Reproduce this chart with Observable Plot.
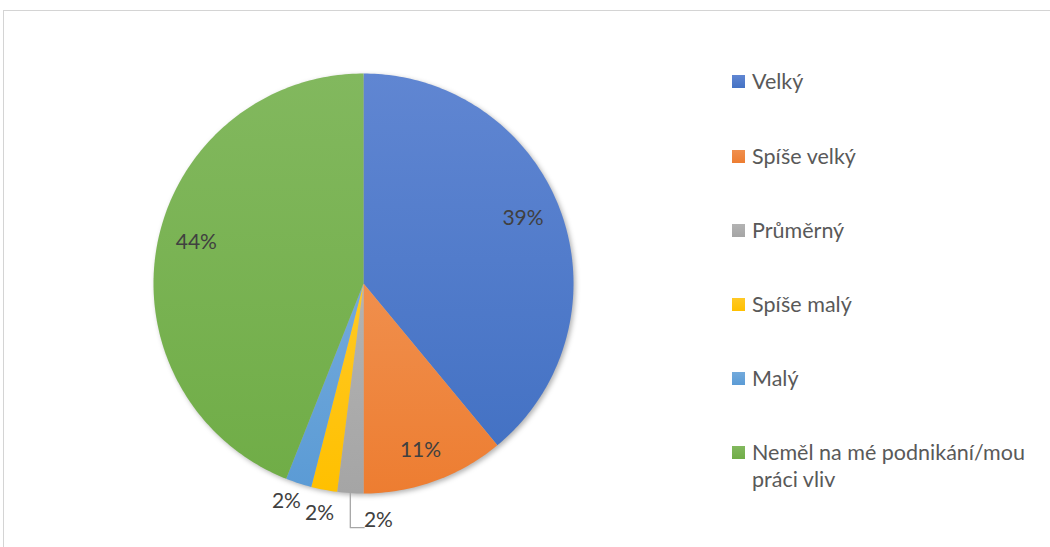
<!DOCTYPE html>
<html>
<head>
<meta charset="utf-8">
<script src="https://cdn.jsdelivr.net/npm/d3@7"></script>
<script src="https://cdn.jsdelivr.net/npm/@observablehq/plot@0.6"></script>
<style>
  html, body { margin: 0; padding: 0; background: #fff; }
  #wrap { position: relative; width: 1050px; height: 547px; overflow: hidden; font-family: Lato, "Open Sans", sans-serif; }
  #frame { position: absolute; left: 3px; top: 10px; width: 1100px; height: 600px; border-top: 1px solid #d4d4d4; border-left: 1px solid #d4d4d4; }
  #chart { position: absolute; left: 0; top: 0; }
  #legend { position: absolute; left: 732px; top: 0; width: 318px; }
  .item { position: absolute; left: 0; display: flex; align-items: flex-start; font-size: 21.5px; color: #595959; line-height: 27px; }
  .sw { width: 13px; height: 13px; margin-top: 7px; margin-right: 7px; flex: none; }
</style>
</head>
<body>
<div id="wrap">
  <div id="frame"></div>
  <div id="chart"></div>
  <div id="legend"></div>
</div>
<script>
// ---- data ----
const categories = ["Velký", "Spíše velký", "Průměrný", "Spíše malý", "Malý", "Neměl na mé podnikání/mou práci vliv"];
const values = [39, 11, 2, 2, 2, 44];
const labels = ["39%", "11%", "2%", "2%", "2%", "44%"];
const colors = ["#4472C4", "#ED7D31", "#A5A5A5", "#FFC000", "#5B9BD5", "#70AD47"];
const lightColors = ["#6086d2", "#f08f4d", "#b3b3b3", "#ffc926", "#73aadc", "#82b85e"];

// ---- geometry from data ----
const total = d3.sum(values);
const arcs = [];
let acc = 0;
values.forEach((v, i) => {
  const a0 = acc / total * 2 * Math.PI;
  acc += v;
  const a1 = acc / total * 2 * Math.PI;
  arcs.push({i, a0, a1, mid: (a0 + a1) / 2});
});
const pts = [];
arcs.forEach(({i, a0, a1}) => {
  pts.push({k: i, x: 0, y: 0});
  const n = Math.max(4, Math.ceil((a1 - a0) / (Math.PI / 180)));
  for (let j = 0; j <= n; j++) {
    const a = a0 + (a1 - a0) * j / n;
    pts.push({k: i, x: Math.sin(a), y: Math.cos(a)});
  }
  pts.push({k: i, x: 0, y: 0});
});

// label layout (best-fit style: inside for large slices, outside for small ones)
const deg = Math.PI / 180;
const labelRadius = [0.821, 0.838, 1.13, 1.115, 1.10, 0.82];
const labelNudge = [-2.5, 0.9, 0, 0, 1.5, 3.1];
const labelData = arcs.map(({i, mid}) => {
  let ang = mid + labelNudge[i] * deg;
  let leader = false;
  if (i === 2) { ang = Math.PI - (mid - Math.PI); leader = true; }
  const r = labelRadius[i];
  return {i, text: labels[i], x: r * Math.sin(ang), y: r * Math.cos(ang), leader, mid};
});
const leaderPts = [];
labelData.filter(d => d.leader).forEach(d => {
  const ax = Math.sin(d.mid), ay = Math.cos(d.mid);
  leaderPts.push({x: ax, y: ay}, {x: ax, y: d.y - 0.035}, {x: d.x - 0.068, y: d.y - 0.035});
});

const chart = Plot.plot({
  width: 1050,
  height: 547,
  marginLeft: 153,
  marginRight: 477,
  marginTop: 73,
  marginBottom: 54,
  x: {domain: [-1, 1], axis: null},
  y: {domain: [-1, 1], axis: null},
  color: {type: "identity"},
  style: {background: "transparent", overflow: "visible"},
  marks: [
    Plot.line(pts, {x: "x", y: "y", z: "k", fill: d => `url(#grad${d.k})`, stroke: null, curve: "linear"}),
    Plot.line(leaderPts, {x: "x", y: "y", stroke: "#a6a6a6", strokeWidth: 1.3}),
    Plot.text(labelData, {x: "x", y: "y", text: "text", fontSize: 21, fill: "#404040", fontFamily: "Lato, 'Open Sans', sans-serif"})
  ]
});

// gradient defs
const ns = "http://www.w3.org/2000/svg";
const defs = document.createElementNS(ns, "defs");
colors.forEach((c, i) => {
  const g = document.createElementNS(ns, "linearGradient");
  g.setAttribute("id", "grad" + i);
  g.setAttribute("x1", "0"); g.setAttribute("y1", "0");
  g.setAttribute("x2", "0"); g.setAttribute("y2", "1");
  const s0 = document.createElementNS(ns, "stop");
  s0.setAttribute("offset", "0"); s0.setAttribute("stop-color", lightColors[i]);
  const s1 = document.createElementNS(ns, "stop");
  s1.setAttribute("offset", "1"); s1.setAttribute("stop-color", c);
  g.appendChild(s0); g.appendChild(s1);
  defs.appendChild(g);
});
chart.insertBefore(defs, chart.firstChild);
const pieG = chart.querySelector('g[aria-label="line"]');
if (pieG) pieG.style.filter = "drop-shadow(2px 2px 2.5px rgba(0,0,0,0.3))";
document.getElementById("chart").appendChild(chart);

// legend
const rowTops = [68, 143, 217, 291, 365, 439];
const legend = document.getElementById("legend");
categories.forEach((c, i) => {
  const it = document.createElement("div");
  it.className = "item";
  it.style.top = rowTops[i] + "px";
  const sw = document.createElement("div");
  sw.className = "sw";
  sw.style.background = `linear-gradient(${lightColors[i]}, ${colors[i]})`;
  const tx = document.createElement("div");
  tx.textContent = c;
  tx.style.width = "295px";
  it.appendChild(sw); it.appendChild(tx);
  legend.appendChild(it);
});
</script>
</body>
</html>
